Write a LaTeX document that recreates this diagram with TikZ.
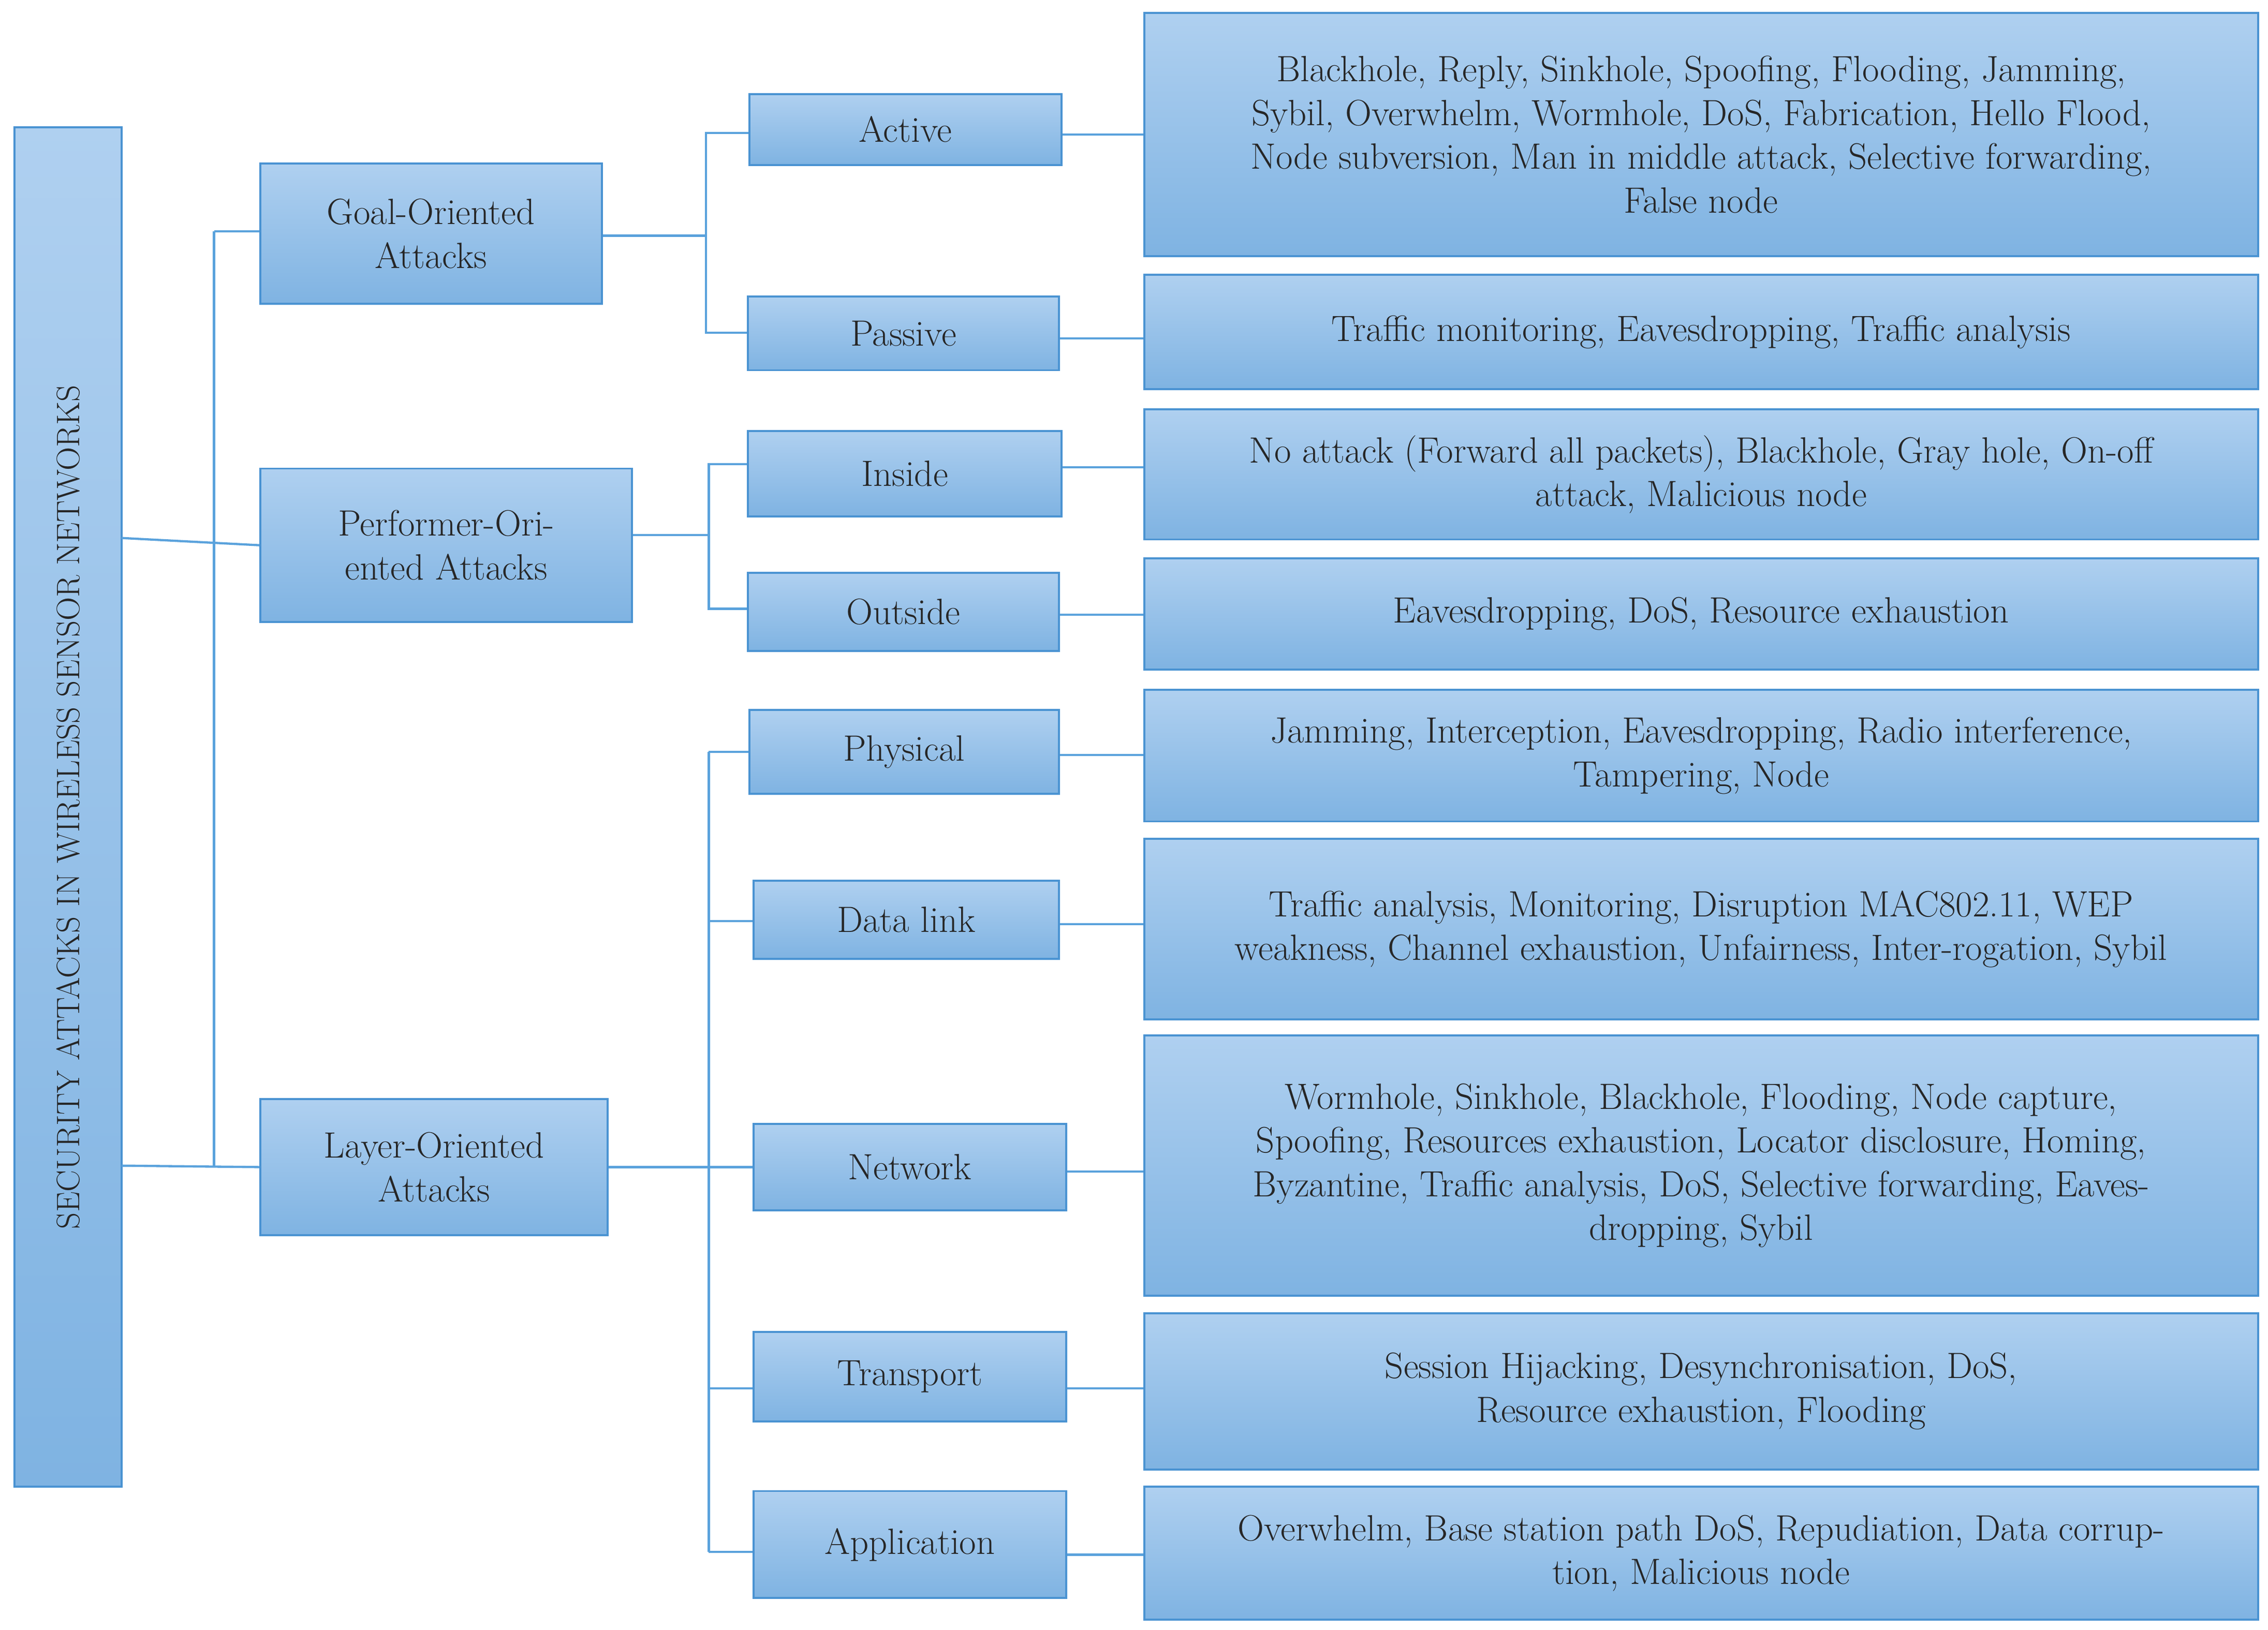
\documentclass[tikz,border=0pt]{standalone}
\begin{document}
\definecolor{bd}{HTML}{4A93D2}
\definecolor{ln}{HTML}{5AA2DC}
\definecolor{tp}{HTML}{AFD0F0}
\definecolor{bt}{HTML}{7FB3E2}
\tikzset{box/.style={draw=bd,line width=2pt,top color=tp,bottom color=bt,inner sep=0pt,align=center,
  font=\fontsize{36}{43}\selectfont,text=black!85},
 con/.style={draw=ln,line width=2.2pt}}
\newcommand\bx[6]{\node[box,minimum width={(#4-#2)*0.05cm},minimum height={(#5-#3)*0.05cm}] (#1) at ({(#2+#4)/2*0.05},{-(#3+#5)/2*0.05}) {#6};}
\begin{tikzpicture}
\useasboundingbox[fill=white] (0,0) rectangle (78.4,-56.35);
\node[box,minimum width={940*0.05cm},minimum height={74*0.05cm},rotate=90,font=\fontsize{32}{40}\selectfont] (root) at ({47*0.05},{-558*0.05}) {SECURITY ATTACKS IN WIRELESS SENSOR NETWORKS};
\bx{goal}{180}{113}{416}{210}{Goal-Oriented\\Attacks}
\bx{perf}{180}{324}{437}{430}{Performer-Ori-\\ented Attacks}
\bx{layer}{180}{760}{420}{854}{Layer-Oriented\\Attacks}
\bx{act}{518}{65}{734}{114}{Active}
\bx{pas}{517}{205}{732}{256}{Passive}
\bx{ins}{517}{298}{734}{357}{Inside}
\bx{out}{517}{396}{732}{450}{Outside}
\bx{phy}{518}{491}{732}{549}{Physical}
\bx{dl}{521}{609}{732}{663}{Data link}
\bx{net}{521}{777}{737}{837}{Network}
\bx{tra}{521}{921}{737}{983}{Transport}
\bx{app}{521}{1031}{737}{1105}{Application}
\bx{ract}{791}{9}{1561}{177}{Blackhole, Reply, Sinkhole, Spoofing, Flooding, Jamming,\\Sybil, Overwhelm, Wormhole, DoS, Fabrication, Hello Flood,\\Node subversion, Man in middle attack, Selective forwarding,\\False node}
\bx{rpas}{791}{190}{1561}{269}{Traffic monitoring, Eavesdropping, Traffic analysis}
\bx{rins}{791}{283}{1561}{373}{No attack (Forward all packets), Blackhole, Gray hole, On-off\\attack, Malicious node}
\bx{rout}{791}{386}{1561}{463}{Eavesdropping, DoS, Resource exhaustion}
\bx{rphy}{791}{477}{1561}{568}{Jamming, Interception, Eavesdropping, Radio interference,\\Tampering, Node}
\bx{rdl}{791}{580}{1561}{705}{Traffic analysis, Monitoring, Disruption MAC802.11, WEP\\weakness, Channel exhaustion, Unfairness, Inter-rogation, Sybil}
\bx{rnet}{791}{716}{1561}{896}{Wormhole, Sinkhole, Blackhole, Flooding, Node capture,\\Spoofing, Resources exhaustion, Locator disclosure, Homing,\\Byzantine, Traffic analysis, DoS, Selective forwarding, Eaves-\\dropping, Sybil}
\bx{rtra}{791}{908}{1561}{1016}{Session Hijacking, Desynchronisation, DoS,\\Resource exhaustion, Flooding}
\bx{rapp}{791}{1028}{1561}{1120}{Overwhelm, Base station path DoS, Repudiation, Data corrup-\\tion, Malicious node}
\begin{scope}[x=0.05cm,y=-0.05cm]
\coordinate (t1) at (148,160); \coordinate (t2) at (148,806);
\draw[con] (84,372) -- (perf.west);
\draw[con] (84,806) -- (layer.west);
\draw[con] (t1) -- (t2);
\draw[con] (t1) -- (goal.west |- t1);
\draw[con] (goal.east |- 0,163) -| (488,92) -- (act.west |- 0,92);
\draw[con] (488,160) |- (pas.west |- 0,230);
\draw[con] (perf.east |- 0,370) -| (490,321) -- (ins.west |- 0,321);
\draw[con] (490,370) |- (out.west |- 0,421);
\draw[con] (layer.east |- 0,807) -- (net.west |- 0,807);
\draw[con] (490,520) -- (490,1073);
\draw[con] (490,520) -- (phy.west |- 0,520);
\draw[con] (490,637) -- (dl.west |- 0,637);
\draw[con] (490,960) -- (tra.west |- 0,960);
\draw[con] (490,1073) -- (app.west |- 0,1073);
\draw[con] (act.east |- 0,93) -- (ract.west |- 0,93);
\draw[con] (pas.east |- 0,234) -- (rpas.west |- 0,234);
\draw[con] (ins.east |- 0,323) -- (rins.west |- 0,323);
\draw[con] (out.east |- 0,425) -- (rout.west |- 0,425);
\draw[con] (phy.east |- 0,522) -- (rphy.west |- 0,522);
\draw[con] (dl.east |- 0,639) -- (rdl.west |- 0,639);
\draw[con] (net.east |- 0,810) -- (rnet.west |- 0,810);
\draw[con] (tra.east |- 0,960) -- (rtra.west |- 0,960);
\draw[con] (app.east |- 0,1075) -- (rapp.west |- 0,1075);
\end{scope}
\end{tikzpicture}
\end{document}
